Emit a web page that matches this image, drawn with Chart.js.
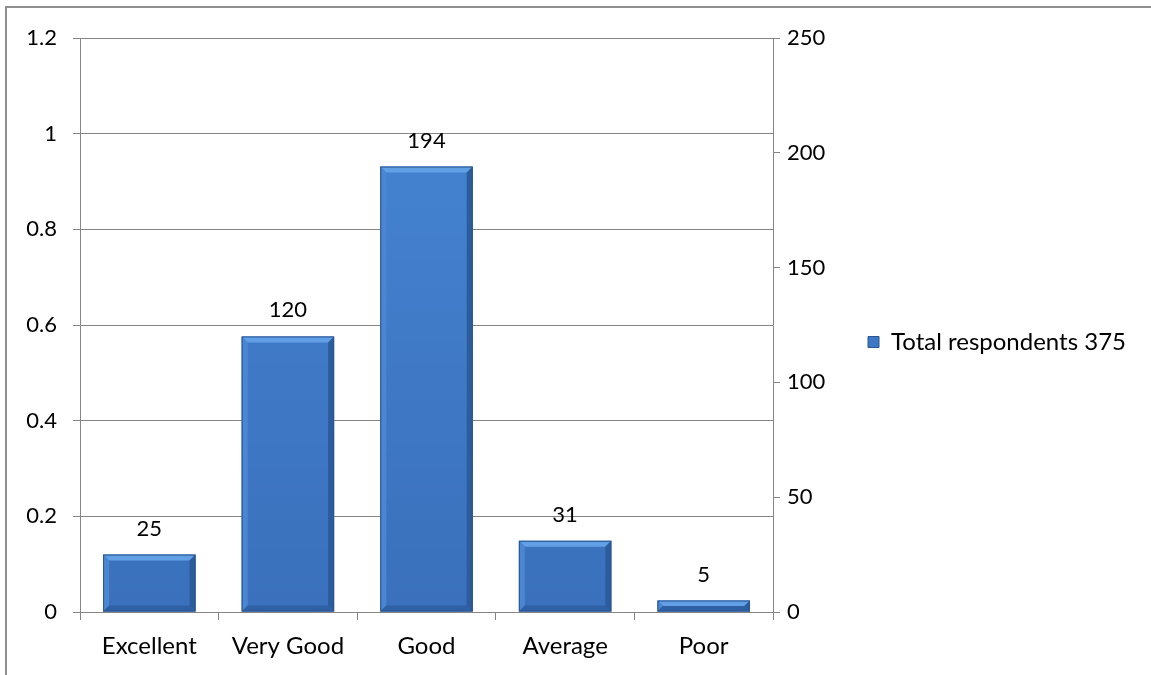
<!DOCTYPE html>
<html><head><meta charset="utf-8">
<script src="https://cdn.jsdelivr.net/npm/chart.js@4"></script>
<style>
html,body{margin:0;padding:0;background:#fff;overflow:hidden}
#wrap{position:relative;width:1151px;height:675px}
#frame{position:absolute;left:5px;top:6px;width:1200px;height:700px;border-left:2px solid #8e8e8e;border-top:2px solid #8e8e8e;pointer-events:none}
canvas{position:absolute;left:0;top:0}
</style></head><body>
<div id="wrap"><canvas id="c" width="1151" height="675"></canvas><div id="frame"></div></div>
<script>
const categories = ['Excellent', 'Very Good', 'Good', 'Average', 'Poor'];
const respondents = [25, 120, 194, 31, 5];
const seriesLabel = 'Total respondents 375';
const leftTicks = [0, 0.2, 0.4, 0.6, 0.8, 1, 1.2];
const rightTicks = [0, 50, 100, 150, 200, 250];

const FONT = 'Lato';
const FS_TEXT = 24;   // words (category labels, legend)
const FS_NUM = 22;    // numbers (ticks, value labels)
const GRID = '#868686';

function build() {
  // measure legend width so the plot area lands where the reference has it
  const mctx = document.createElement('canvas').getContext('2d');
  mctx.font = 'normal ' + FS_TEXT + 'px ' + FONT;
  const legendPad = 10, legendBox = 11;
  const textW = mctx.measureText(seriesLabel).width;
  const legendW = legendPad + legendBox + FS_TEXT / 2 + textW + 10;
  const legendLeft = 858;
  const padRight = Math.max(0, 1151 - legendLeft - legendW);

  const bevelPlugin = {
    id: 'bevel',
    afterDatasetsDraw(chart) {
      const ctx = chart.ctx;
      const meta = chart.getDatasetMeta(0);
      meta.data.forEach((bar) => {
        const l = bar.x - bar.width / 2, r = bar.x + bar.width / 2;
        const t = bar.y, b = bar.base;
        const bv = Math.min(6, (b - t) / 2);
        const poly = (pts, col) => {
          ctx.beginPath();
          ctx.moveTo(pts[0][0], pts[0][1]);
          for (let i = 1; i < pts.length; i++) ctx.lineTo(pts[i][0], pts[i][1]);
          ctx.closePath();
          ctx.fillStyle = col;
          ctx.fill();
        };
        ctx.save();
        poly([[l, t], [r, t], [r - bv, t + bv], [l + bv, t + bv]], '#62a0e6');
        poly([[l, t], [l + bv, t + bv], [l + bv, b - bv], [l, b]], '#4a86d2');
        poly([[r, t], [r, b], [r - bv, b - bv], [r - bv, t + bv]], '#2d5c9c');
        poly([[l, b], [l + bv, b - bv], [r - bv, b - bv], [r, b]], '#2f60a4');
        ctx.strokeStyle = '#2a5590';
        ctx.lineWidth = 1;
        ctx.strokeRect(l + 0.5, t + 0.5, r - l - 1, b - t - 1);
        ctx.restore();
      });
    }
  };

  const valueLabelPlugin = {
    id: 'valueLabels',
    afterDatasetsDraw(chart) {
      const ctx = chart.ctx;
      const meta = chart.getDatasetMeta(0);
      ctx.save();
      ctx.font = 'normal ' + FS_NUM + 'px ' + FONT;
      ctx.fillStyle = '#000';
      ctx.textAlign = 'center';
      ctx.textBaseline = 'alphabetic';
      meta.data.forEach((bar, i) => {
        ctx.fillText(String(chart.data.datasets[0].data[i]), bar.x, bar.y - 19);
      });
      ctx.restore();
    }
  };

  const legendShift = {
    id: 'legendShift',
    afterLayout(chart) {
      const lg = chart.legend;
      if (!lg) return;
      lg.top += 17; lg.bottom += 17;
    }
  };

  const ctx = document.getElementById('c').getContext('2d');
  new Chart(ctx, {
    type: 'bar',
    data: {
      labels: categories,
      datasets: [{
        label: seriesLabel,
        data: respondents,
        yAxisID: 'y2',
        backgroundColor: (c) => {
          const ca = c.chart.chartArea;
          if (!ca) return '#3e78c4';
          const g = c.chart.ctx.createLinearGradient(0, ca.top, 0, ca.bottom);
          g.addColorStop(0, '#4686d4');
          g.addColorStop(1, '#3a70bc');
          return g;
        },
        borderWidth: 0,
        barPercentage: 0.667,
        categoryPercentage: 1.0
      }]
    },
    options: {
      responsive: false,
      animation: false,
      devicePixelRatio: 1,
      layout: { padding: { top: 38, left: 0, right: padRight, bottom: 0 } },
      plugins: {
        legend: {
          position: 'right',
          fullSize: false,
          maxWidth: 600,
          labels: {
            boxWidth: legendBox, boxHeight: legendBox, padding: legendPad,
            color: '#000', font: { family: FONT, size: FS_TEXT },
            generateLabels: () => [{
              text: seriesLabel, fillStyle: '#3e78c4', strokeStyle: '#2a5590',
              lineWidth: 1, hidden: false, datasetIndex: 0
            }]
          }
        },
        tooltip: { enabled: false }
      },
      scales: {
        x: {
          grid: { display: true, drawOnChartArea: false, offset: true, tickLength: 8, color: GRID },
          border: { display: true, color: GRID },
          ticks: { color: '#000', font: { family: FONT, size: FS_TEXT }, padding: 12, maxRotation: 0 },
          afterFit: (s) => { s.height = 63; }
        },
        y: {
          position: 'left',
          min: 0, max: 1.2,
          afterBuildTicks: (s) => { s.ticks = leftTicks.map(v => ({ value: v })); },
          grid: { color: GRID, tickLength: 7 },
          border: { display: true, color: GRID },
          ticks: { color: '#000', font: { family: FONT, size: FS_NUM }, padding: 16, callback: (v) => String(v) },
          afterFit: (s) => { s.width = 80; }
        },
        y2: {
          position: 'right',
          min: 0, max: 250,
          afterBuildTicks: (s) => { s.ticks = rightTicks.map(v => ({ value: v })); },
          grid: { drawOnChartArea: false, color: GRID, tickLength: 7 },
          border: { display: true, color: GRID },
          ticks: { color: '#000', font: { family: FONT, size: FS_NUM }, padding: 7, callback: (v) => String(v) },
          afterFit: (s) => { s.width = 85; }
        }
      }
    },
    plugins: [bevelPlugin, valueLabelPlugin, legendShift]
  });
}

if (document.fonts && document.fonts.load) {
  Promise.all([
    document.fonts.load('normal ' + FS_TEXT + 'px ' + FONT),
    document.fonts.load('normal ' + FS_NUM + 'px ' + FONT)
  ]).then(build, build);
} else {
  build();
}
</script>
</body></html>
